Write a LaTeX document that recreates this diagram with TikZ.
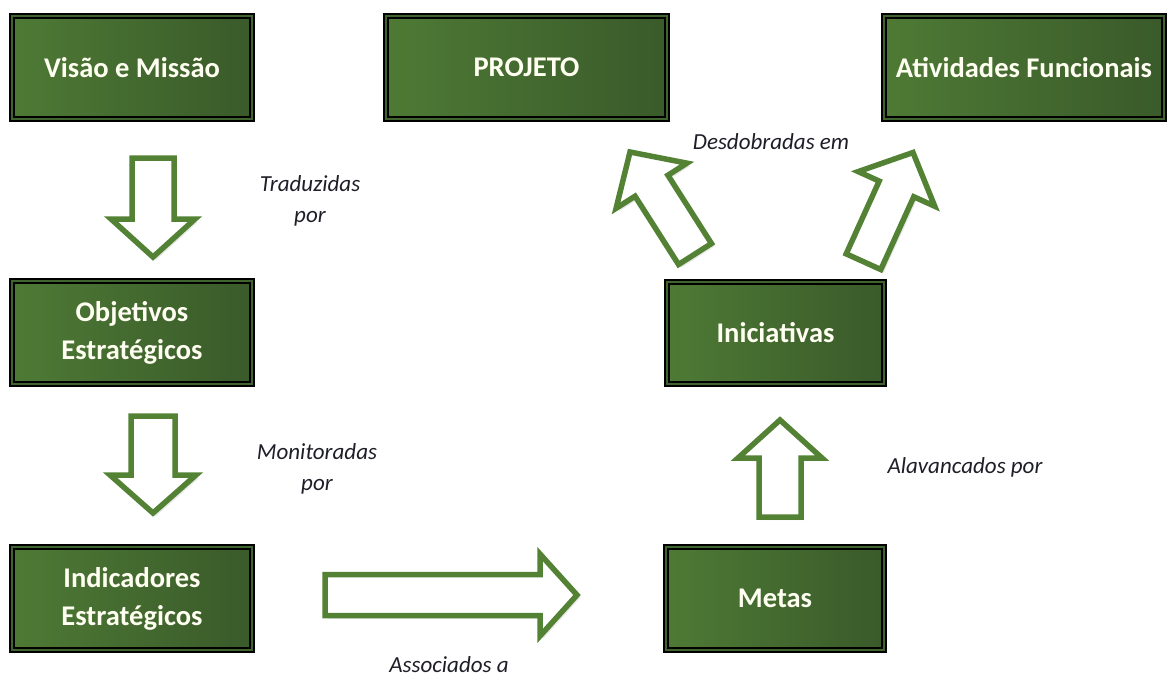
\documentclass[tikz,border=0pt]{standalone}
\usepackage{fontspec}
\setmainfont{Carlito}
\usetikzlibrary{calc,shadows}
\definecolor{boxL}{RGB}{78,122,53}
\definecolor{boxR}{RGB}{58,90,42}
\definecolor{boxGap}{RGB}{64,100,45}
\definecolor{arrG}{RGB}{84,130,53}
\definecolor{lbl}{RGB}{30,30,40}
\definecolor{boxTxt}{RGB}{255,255,242}
\newcommand\bkarrow[5]{% tail, tip, shaft half width, head half width, head length
  \coordinate (hb) at ($(#2)!#5!(#1)$);
  \draw[barrow] ($(#1)!#3!90:(#2)$) -- ($(hb)!#3!90:(#2)$) -- ($(hb)!#4!90:(#2)$) -- (#2)
    -- ($(hb)!#4!-90:(#2)$) -- ($(hb)!#3!-90:(#2)$) -- ($(#1)!#3!-90:(#2)$) -- cycle;
}
\begin{document}
\begin{tikzpicture}[x=1pt,y=-1pt,
  box/.style={rectangle, left color=boxL, right color=boxR, draw=black, double=boxGap,
    double distance=2pt, line width=2.2pt, text=boxTxt,
    font=\bfseries\fontsize{28.5}{38}\selectfont, align=center, inner sep=0pt},
  lab/.style={font=\itshape\fontsize{23}{31}\selectfont, text=lbl, align=center, inner sep=0pt},
  barrow/.style={draw=arrG, fill=white, line width=5.5pt, line join=miter,
    drop shadow={shadow xshift=3pt, shadow yshift=-3pt, opacity=0.18}}]
\useasboundingbox (0,0) rectangle (1173,678);

% boxes
\node[box, minimum width=239.6pt, minimum height=102.6pt] (vm) at (132,67.5) {Visão e Missão};
\node[box, minimum width=280.6pt, minimum height=102.6pt] (proj) at (526.5,67.5) {PROJETO};
\node[box, minimum width=279.6pt, minimum height=102.6pt] (ativ) at (1024,67.5) {Atividades Funcionais};
\node[box, minimum width=239.6pt, minimum height=102.6pt] (obj) at (132,332.5) {Objetivos\\Estratégicos};
\node[box, minimum width=216.6pt, minimum height=101.6pt] (inic) at (775.5,333) {Iniciativas};
\node[box, minimum width=239.6pt, minimum height=102.6pt] (ind) at (132,598.5) {Indicadores\\Estratégicos};
\node[box, minimum width=217.6pt, minimum height=102.6pt] (metas) at (775,598.5) {Metas};

% arrow end points
\coordinate (a1t) at (153,158);   \coordinate (a1h) at (153,257);
\coordinate (a2t) at (153,416);   \coordinate (a2h) at (153,513);
\coordinate (a3t) at (325,595);   \coordinate (a3h) at (577,595);
\coordinate (a4t) at (780,517);   \coordinate (a4h) at (780,420);
\coordinate (a5t) at (695,254);   \coordinate (a5h) at (630,152);
\coordinate (a6t) at (863.5,261.7); \coordinate (a6h) at (913,152.5);

\bkarrow{a1t}{a1h}{21pt}{42pt}{38pt}
\bkarrow{a2t}{a2h}{22pt}{43pt}{38pt}
\bkarrow{a3t}{a3h}{20.5pt}{41pt}{37pt}
\bkarrow{a4t}{a4h}{21pt}{42pt}{38pt}
\bkarrow{a5t}{a5h}{19.5pt}{42pt}{40pt}
\bkarrow{a6t}{a6h}{19pt}{42pt}{40pt}

% labels
\node[lab] (l1) at (310,201) {Traduzidas\\por};
\node[lab] (l2) at (317,469) {Monitoradas\\por};
\node[lab] (l3) at (449,665) {Associados a};
\node[lab] (l4) at (965,467) {Alavancados por};
\node[lab] (l5) at (771,142) {Desdobradas em};
\end{tikzpicture}
\end{document}
